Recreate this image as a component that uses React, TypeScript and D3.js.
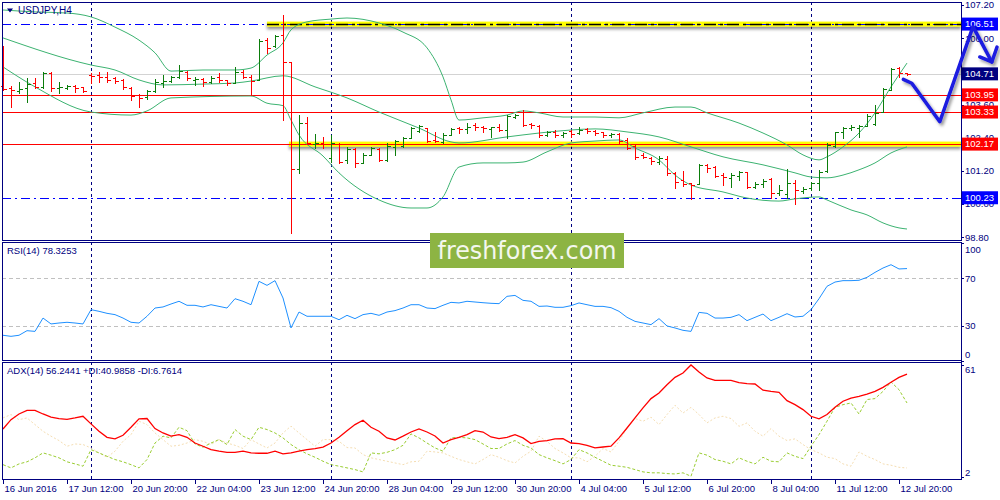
import * as d3 from 'd3'

// ── price bars (USDJPY H4, 16 Jun 04:00 → 13 Jul 00:00) ─────────────────────
const opens = [
  104.27, 104.20, 104.09, 104.20, 104.38, 104.24, 104.74, 104.20, 104.20, 104.27,
  104.24, 104.67, 104.67, 104.60, 104.56, 104.49, 104.20, 103.95, 103.87, 104.09,
  104.38, 104.45, 104.60, 104.78, 104.49, 104.53, 104.42, 104.60, 104.49, 104.38,
  104.78, 104.60, 104.49, 105.93, 105.72, 106.12, 105.14, 101.27, 102.93, 102.17,
  102.21, 101.67, 102.17, 101.60, 101.99, 101.49, 101.78, 101.99, 101.60, 102.07,
  102.10, 102.39, 102.65, 102.75, 102.32, 102.25, 102.50, 102.75, 102.72, 102.86,
  102.79, 102.72, 102.79, 102.68, 103.15, 103.33, 102.90, 102.83, 102.50, 102.61,
  102.50, 102.65, 102.57, 102.72, 102.65, 102.61, 102.50, 102.54, 102.32, 102.10,
  101.78, 101.67, 101.52, 101.63, 101.13, 100.87, 100.77, 100.73, 101.42, 101.34,
  101.05, 100.95, 101.02, 101.16, 100.62, 100.73, 100.91, 100.40, 100.37, 100.77,
  100.48, 100.58, 100.77, 101.20, 102.10, 102.61, 102.75, 102.75, 102.83, 102.90,
  103.33, 104.13, 104.92, 104.74,
]
const highs = [
  105.72, 104.27, 104.42, 104.56, 104.56, 104.78, 104.78, 104.42, 104.31, 104.31,
  104.24, 104.74, 104.78, 104.78, 104.60, 104.53, 104.24, 103.98, 104.13, 104.53,
  104.67, 104.63, 105.03, 104.81, 104.60, 104.56, 104.63, 104.74, 104.49, 104.96,
  104.85, 104.67, 105.97, 106.01, 106.12, 106.84, 105.14, 103.22, 103.15, 102.54,
  102.43, 102.50, 102.21, 102.07, 102.03, 101.85, 102.07, 102.03, 102.21, 102.32,
  102.43, 102.79, 102.86, 102.75, 102.61, 102.57, 102.75, 102.79, 102.93, 102.93,
  102.83, 102.79, 102.90, 103.22, 103.26, 103.40, 102.93, 102.86, 102.65, 102.68,
  102.61, 102.68, 102.79, 102.75, 102.68, 102.61, 102.57, 102.57, 102.39, 102.14,
  101.85, 101.71, 101.74, 101.74, 101.16, 101.20, 100.77, 101.45, 101.45, 101.38,
  101.13, 101.13, 101.20, 101.16, 100.80, 100.91, 100.95, 100.69, 101.27, 100.87,
  100.62, 100.80, 101.24, 102.21, 102.61, 102.79, 102.86, 102.86, 103.26, 103.59,
  104.20, 104.92, 104.96, 104.74,
]
const lows = [
  104.13, 103.51, 104.02, 103.69, 104.20, 104.20, 104.09, 104.02, 104.16, 104.06,
  104.06, 104.38, 104.42, 104.42, 104.38, 104.16, 103.77, 103.51, 103.80, 104.06,
  104.24, 104.42, 104.56, 104.49, 104.31, 104.27, 104.38, 104.42, 104.31, 104.38,
  104.56, 103.95, 104.49, 105.47, 105.68, 103.04, 98.96, 101.13, 102.17, 102.03,
  102.03, 101.52, 101.49, 101.49, 101.34, 101.49, 101.78, 101.56, 101.56, 101.78,
  102.07, 102.39, 102.61, 102.25, 102.25, 102.21, 102.50, 102.57, 102.57, 102.68,
  102.61, 102.43, 102.65, 102.39, 103.12, 102.83, 102.75, 102.43, 102.46, 102.43,
  102.43, 102.43, 102.54, 102.57, 102.50, 102.43, 102.43, 102.21, 101.99, 101.63,
  101.67, 101.45, 101.45, 101.05, 100.58, 100.66, 100.19, 100.73, 101.16, 100.98,
  100.69, 100.62, 100.87, 100.58, 100.58, 100.62, 100.22, 100.33, 100.22, 100.01,
  100.40, 100.51, 100.51, 101.16, 102.07, 102.39, 102.68, 102.43, 102.83, 102.86,
  103.33, 104.13, 104.60, 104.67,
]
const closes = [
  104.16, 104.13, 104.16, 104.34, 104.24, 104.74, 104.20, 104.24, 104.27, 104.20,
  104.09, 104.63, 104.60, 104.49, 104.45, 104.24, 103.91, 103.84, 104.09, 104.42,
  104.45, 104.60, 104.81, 104.56, 104.53, 104.42, 104.56, 104.49, 104.38, 104.78,
  104.60, 104.45, 105.90, 105.65, 106.08, 105.14, 101.27, 102.93, 102.21, 102.21,
  102.17, 102.21, 101.52, 101.99, 101.49, 101.78, 102.03, 101.60, 102.10, 102.28,
  102.39, 102.75, 102.83, 102.28, 102.30, 102.50, 102.72, 102.70, 102.79, 102.79,
  102.75, 102.78, 102.68, 103.19, 103.22, 102.86, 102.86, 102.50, 102.61, 102.50,
  102.57, 102.54, 102.68, 102.65, 102.57, 102.50, 102.54, 102.28, 102.03, 101.71,
  101.71, 101.56, 101.67, 101.13, 100.80, 100.73, 100.69, 101.42, 101.31, 101.02,
  100.98, 101.05, 101.16, 100.62, 100.73, 100.84, 100.40, 100.51, 100.77, 100.51,
  100.55, 100.77, 101.16, 102.14, 102.61, 102.75, 102.79, 102.83, 103.19, 103.30,
  104.16, 104.89, 104.74, 104.71,
]

// ── Bollinger bands, read as [bar, price] ─────────────────────────────────────
const bbUpper: [number, number][] = [
  [0, 107.02], [4, 106.95], [8, 106.91], [11, 106.77], [14, 106.40], [17, 105.93], [19, 105.47],
  [21, 104.81], [25, 104.85], [29, 104.85], [31, 104.92], [33, 105.39], [35, 105.83], [36, 106.30],
  [38, 106.59], [41, 106.69], [43, 106.73], [47, 106.55], [50, 106.22], [53, 105.65], [55, 104.60],
  [56, 103.77], [57, 103.04], [60, 103.12], [63, 103.22], [65, 103.37], [67, 103.30], [70, 103.15],
  [74, 103.15], [77, 103.12], [80, 103.30], [84, 103.51], [86, 103.51], [88, 103.30], [92, 102.93],
  [95, 102.57], [98, 102.14], [100, 101.78], [102, 101.60], [103, 101.71], [105, 102.07],
  [107, 102.57], [109, 103.30], [111, 104.24], [113, 105.10],
]
const bbMiddle: [number, number][] = [
  [0, 106.01], [11, 105.03], [14, 104.85], [17, 104.49], [20, 104.31], [25, 104.34], [29, 104.38],
  [31, 104.45], [35, 104.64], [39, 104.24], [43, 103.84], [47, 103.33], [52, 102.75], [56, 102.25],
  [57, 102.21], [63, 102.43], [67, 102.57], [71, 102.68], [74, 102.72], [78, 102.61], [82, 102.43],
  [86, 102.07], [90, 101.71], [95, 101.42], [99, 101.13], [101, 100.98], [103, 100.95],
  [105, 101.05], [107, 101.24], [109, 101.49], [111, 101.85], [113, 102.07],
]
const bbLower: [number, number][] = [
  [0, 104.96], [4, 104.24], [11, 103.33], [16, 103.22], [18, 103.37], [21, 103.84], [31, 103.91],
  [33, 103.65], [35, 103.56], [36, 103.04], [37, 102.50], [40, 101.74], [42, 101.13], [47, 100.15],
  [51, 99.86], [53, 99.86], [55, 100.26], [57, 101.34], [60, 101.49], [63, 101.49], [65, 101.52],
  [68, 101.89], [71, 102.21], [74, 102.28], [77, 102.32], [79, 102.03], [82, 101.60], [84, 101.05],
  [86, 100.69], [90, 100.44], [93, 100.22], [97, 100.11], [99, 100.19], [102, 100.26], [103, 100.15],
  [106, 99.79], [108, 99.61], [110, 99.32], [112, 99.14], [113, 99.10],
]

// ── RSI(14) ──────────────────────────────────────────────────────────────────
const rsi = [
  21.8, 20.9, 21.8, 25.7, 25.1, 36.4, 31.4, 32.2, 32.8, 32.2,
  31.4, 43.5, 42.1, 40.4, 39.3, 36.4, 32.8, 32.2, 37.9, 44.9,
  45.8, 48.3, 50.6, 47.2, 47.2, 45.8, 47.7, 46.3, 44.9, 52.8,
  50.6, 47.7, 67.5, 64.1, 68.1, 53.4, 28.0, 41.5, 37.9, 37.9,
  37.9, 37.9, 35.0, 38.7, 35.9, 39.3, 40.4, 38.7, 41.5, 42.7,
  44.9, 47.7, 47.7, 44.9, 44.4, 47.2, 49.7, 49.2, 50.6, 50.0,
  49.4, 48.9, 48.6, 54.8, 55.6, 51.4, 50.6, 46.3, 46.6, 45.5,
  45.5, 46.9, 49.2, 47.7, 46.3, 46.3, 45.2, 42.1, 37.0, 33.6,
  32.2, 30.8, 35.9, 29.7, 28.0, 26.0, 25.1, 41.2, 40.4, 36.4,
  36.4, 37.0, 39.3, 34.2, 37.0, 39.8, 34.2, 37.0, 40.1, 37.3,
  37.9, 43.5, 52.8, 63.3, 66.9, 68.1, 68.1, 68.4, 70.9, 75.1,
  78.8, 81.6, 78.0, 78.3253,
]

// ── ADX(14), +DI, -DI ────────────────────────────────────────────────────────
const adx = [
  27.3, 32.2, 35.2, 37.1, 37.1, 35.2, 33.5, 32.8, 32.4, 33.1,
  34.0, 30.0, 26.1, 22.9, 22.1, 24.0, 28.2, 32.6, 32.8, 27.5,
  25.2, 23.5, 24.3, 22.9, 19.9, 18.2, 16.4, 15.6, 15.0, 15.0,
  15.6, 14.7, 14.5, 14.5, 15.6, 14.2, 14.7, 15.6, 16.4, 17.0,
  17.7, 19.9, 22.9, 26.4, 29.6, 31.9, 28.2, 26.1, 22.6, 21.5,
  23.5, 25.7, 27.3, 25.7, 23.6, 19.9, 21.7, 22.9, 24.3, 26.4,
  25.7, 23.1, 22.2, 22.9, 24.3, 22.6, 19.6, 20.8, 21.2, 22.1,
  22.2, 19.9, 19.6, 18.7, 17.3, 17.8, 18.2, 22.6, 27.8, 33.1,
  38.4, 43.3, 46.3, 50.6, 54.5, 56.8, 61.0, 57.3, 54.2, 52.9,
  52.9, 52.9, 51.7, 51.2, 51.0, 47.7, 47.1, 46.6, 42.2, 40.1,
  37.5, 34.0, 32.6, 34.9, 38.7, 41.9, 43.6, 44.5, 45.7, 47.1,
  49.2, 51.9, 54.5, 56.2441,
]
const plusDI = [
  8.5, 6.8, 8.9, 10.0, 12.1, 14.7, 13.5, 12.1, 10.0, 8.9,
  7.7, 16.4, 14.7, 12.9, 11.2, 10.0, 8.5, 6.8, 11.2, 19.9,
  23.5, 22.6, 28.2, 26.4, 19.4, 17.7, 19.9, 21.7, 19.1, 27.0,
  23.5, 21.7, 28.2, 27.0, 25.2, 22.6, 19.1, 16.4, 14.2, 12.4,
  10.3, 8.5, 7.7, 6.8, 5.9, 4.7, 14.7, 14.2, 15.0, 16.4,
  18.7, 24.7, 22.6, 19.9, 17.3, 15.6, 22.6, 22.9, 22.6, 21.7,
  19.4, 17.0, 17.0, 19.4, 21.2, 18.7, 17.3, 13.8, 12.1, 10.6,
  8.9, 11.2, 16.4, 14.7, 12.4, 10.3, 8.2, 7.7, 7.1, 5.9,
  4.7, 4.2, 4.2, 3.8, 3.6, 4.2, 2.4, 14.7, 13.5, 11.2,
  10.3, 8.9, 12.1, 10.3, 8.9, 12.4, 10.3, 10.0, 14.7, 12.9,
  11.7, 18.2, 24.3, 31.4, 38.7, 40.1, 41.0, 35.2, 42.8, 43.3,
  47.1, 52.1, 48.0, 40.9858,
]
const minusDI = [
  33.1, 34.9, 32.2, 33.1, 29.6, 26.1, 23.5, 21.2, 18.2, 19.4,
  19.1, 17.3, 14.7, 12.4, 15.6, 20.8, 24.3, 31.4, 29.6, 25.2,
  21.7, 18.2, 18.7, 19.9, 21.7, 20.8, 19.1, 21.7, 19.9, 18.7,
  17.0, 21.7, 19.4, 17.3, 19.9, 25.2, 28.8, 25.2, 21.7, 18.2,
  21.7, 21.7, 20.8, 17.5, 17.3, 13.8, 12.1, 11.2, 10.3, 9.4,
  8.5, 10.0, 10.3, 15.6, 15.2, 14.7, 12.9, 11.2, 10.0, 8.9,
  11.2, 13.8, 12.4, 10.6, 9.4, 12.9, 15.6, 23.5, 20.8, 17.0,
  14.7, 12.1, 12.1, 10.0, 12.9, 17.0, 15.2, 20.8, 27.8, 32.8,
  31.4, 33.5, 29.6, 34.9, 39.8, 35.7, 38.7, 34.9, 30.5, 33.1,
  34.0, 32.8, 28.7, 30.5, 26.1, 23.5, 27.5, 23.5, 21.2, 22.1,
  19.1, 16.4, 14.7, 12.4, 11.7, 8.9, 7.7, 15.2, 12.9, 11.2,
  8.9, 8.2, 7.1, 6.7614,
]

// ── axes, levels, annotations ────────────────────────────────────────────────
const priceTicks = [107.2, 106.0, 104.8, 103.6, 102.4, 101.2, 100.0, 98.8]
const rsiTicks = [100, 70, 30, 0]
const rsiLevels = [70, 30]
const adxTicks = [61, 2]
const timeLabels = [
  '16 Jun 2016', '17 Jun 12:00', '20 Jun 20:00', '22 Jun 04:00', '23 Jun 12:00',
  '24 Jun 20:00', '28 Jun 04:00', '29 Jun 12:00', '30 Jun 20:00', '4 Jul 04:00',
  '5 Jul 12:00', '6 Jul 20:00', '8 Jul 04:00', '11 Jul 12:00', '12 Jul 20:00',
]
const labelEvery = 8
const weekStarts = [11, 41, 71, 101]
const lastPrice = 104.71
const blueLevels = [106.51, 100.23]
const redLevels = [103.95, 103.33, 102.17]
const zoneLevels = [106.51, 102.17]
const zoneStarts = [33, 35.75]
const arrowPath: [number, number][] = [[112.54, 104.51], [113.6, 104.37], [117.1, 102.98], [121.25, 106.42], [123.6, 105.14]]
const arrowHead: [number, number][] = [[122.1, 105.32], [123.6, 105.14], [124.25, 105.68]]

// ── look ─────────────────────────────────────────────────────────────────────
const NAVY = '#000080'
const UP = '#0b7d0b'
const DOWN = '#ff0000'
const BAND = '#3cb371'
const FONT = '"Liberation Sans", Arial, sans-serif'
const L = 2, R = 961
const MAIN = [2, 240], RSI = [242, 360], ADX = [362, 479]

const x = d3.scaleLinear().domain([0, 113]).range([3, 907])
const yP = d3.scaleLinear().domain([98.8, 107.2]).range([237.3, 5])
const yR = d3.scaleLinear().domain([0, 100]).range([361, 243])
const yA = d3.scaleLinear().domain([2, 61]).range([477, 365])
const px = (v: number) => Math.round(v) + 0.5

const bandLine = d3.line<[number, number]>().x(d => x(d[0])).y(d => yP(d[1])).curve(d3.curveMonotoneX)
const arrowLine = d3.line<[number, number]>().x(d => x(d[0])).y(d => yP(d[1]))
const seriesLine = (ys: d3.ScaleLinear<number, number>) =>
  d3.line<number>().x((_, i) => x(i)).y(v => ys(v))

function AxisBox({ price, fill }: { price: number; fill: string }) {
  const y = yP(price)
  return (
    <g>
      <rect x={962} y={y - 6.5} width={36} height={13} fill={fill} />
      <text x={965} y={y} dy="0.35em" fill="#fff" fontSize={9.5}>{price.toFixed(2)}</text>
    </g>
  )
}

export default function App() {
  return (
    <div style={{ position: 'fixed', left: 0, top: 0, width: 1000, height: 500, background: '#fff' }}>
      <svg width={1000} height={500} style={{ display: 'block', fontFamily: FONT }}>
        <defs>
          <filter id="shadow" x="-5%" y="-60%" width="110%" height="320%">
            <feDropShadow dx="0" dy="2.5" stdDeviation="1.6" floodColor="#000" floodOpacity="0.45" />
          </filter>
          <filter id="ashadow" x="-20%" y="-20%" width="140%" height="140%">
            <feDropShadow dx="2" dy="2.5" stdDeviation="1.8" floodColor="#000" floodOpacity="0.4" />
          </filter>
        </defs>
        <rect width={1000} height={500} fill="#fff" />

        {/* week separators */}
        {weekStarts.map(i => (
          <line key={i} x1={px(x(i))} x2={px(x(i))} y1={MAIN[0]} y2={ADX[1]}
            stroke={NAVY} strokeDasharray="3,3" />
        ))}

        {/* ── main panel ─────────────────────────────────────────────── */}
        {zoneLevels.map((p, k) => (
          <rect key={p} x={x(zoneStarts[k])} y={yP(p) - 2.5} width={R - x(zoneStarts[k])} height={5}
            fill="#ffff00" filter="url(#shadow)" />
        ))}
        <line x1={L} x2={R} y1={px(yP(lastPrice))} y2={px(yP(lastPrice))} stroke="#d3d3d3" />
        {blueLevels.map(p => (
          <line key={p} x1={L} x2={R} y1={px(yP(p))} y2={px(yP(p))} stroke="#0000ff" strokeDasharray="9,4,2,4" />
        ))}
        <line x1={x(zoneStarts[0])} x2={R} y1={px(yP(zoneLevels[0]))} y2={px(yP(zoneLevels[0]))}
          stroke="#000" strokeWidth={1.3} strokeDasharray="12,4,3,4" />
        {redLevels.map(p => (
          <line key={p} x1={L} x2={R} y1={px(yP(p))} y2={px(yP(p))} stroke={DOWN} />
        ))}

        <g fill="none" stroke={BAND} strokeWidth={1}>
          <path d={bandLine(bbUpper) ?? ''} />
          <path d={bandLine(bbMiddle) ?? ''} />
          <path d={bandLine(bbLower) ?? ''} />
        </g>

        <g shapeRendering="crispEdges">
          {closes.map((c, i) => {
            const o = opens[i]
            const cx = px(x(i))
            return (
              <g key={i} stroke={c >= o ? UP : DOWN}>
                <line x1={cx} x2={cx} y1={Math.round(yP(highs[i]))} y2={Math.round(yP(lows[i])) + 1} />
                <line x1={cx - 3} x2={cx} y1={px(yP(o))} y2={px(yP(o))} />
                <line x1={cx} x2={cx + 3} y1={px(yP(c))} y2={px(yP(c))} />
              </g>
            )
          })}
        </g>

        {/* header */}
        <path d="M7,8.5 L13,8.5 L10,12.5 Z" fill={NAVY} />
        <text x={18} y={14} fontSize={10} fill={NAVY}>USDJPY,H4</text>

        {/* ── RSI panel ─────────────────────────────────────────────── */}
        {rsiLevels.map(v => (
          <line key={v} x1={L} x2={R} y1={px(yR(v))} y2={px(yR(v))} stroke="#c0c0c0" strokeDasharray="4,3" />
        ))}
        <path d={seriesLine(yR)(rsi) ?? ''} fill="none" stroke="#1e90ff" strokeWidth={1} />
        <text x={7} y={254} fontSize={9.5} fill={NAVY}>RSI(14) {rsi[rsi.length - 1].toFixed(4)}</text>

        {/* ── ADX panel ─────────────────────────────────────────────── */}
        <path d={seriesLine(yA)(minusDI) ?? ''} fill="none" stroke="#f5deb3" strokeWidth={1} strokeDasharray="2,2" />
        <path d={seriesLine(yA)(plusDI) ?? ''} fill="none" stroke="#9acd32" strokeWidth={1} strokeDasharray="3,2" />
        <path d={seriesLine(yA)(adx) ?? ''} fill="none" stroke="#ff0000" strokeWidth={1.3} />
        <text x={7} y={374} fontSize={9.5} fill={NAVY}>
          ADX(14) {adx[adx.length - 1].toFixed(4)}  +DI:{plusDI[plusDI.length - 1].toFixed(4)} -DI:{minusDI[minusDI.length - 1].toFixed(4)}
        </text>

        {/* ── frames ────────────────────────────────────────────────── */}
        <g fill="none" stroke={NAVY} shapeRendering="crispEdges">
          {[MAIN, RSI, ADX].map(([t, b]) => (
            <rect key={t} x={L + 0.5} y={t + 0.5} width={R - L} height={b - t} />
          ))}
        </g>

        {/* price axis */}
        <g fontSize={9.5} fill={NAVY}>
          {priceTicks.map(p => (
            <g key={p}>
              <line x1={R} x2={R + 3} y1={px(yP(p))} y2={px(yP(p))} stroke={NAVY} />
              <text x={965} y={yP(p)} dy="0.35em">{p.toFixed(2)}</text>
            </g>
          ))}
          {rsiTicks.map(v => (
            <g key={v}>
              <line x1={R} x2={R + 3} y1={px(yR(v))} y2={px(yR(v))} stroke={NAVY} />
              <text x={965} y={Math.min(Math.max(yR(v), 250), 355)} dy="0.35em">{v}</text>
            </g>
          ))}
          {adxTicks.map(v => (
            <g key={v}>
              <line x1={R} x2={R + 3} y1={px(yA(v))} y2={px(yA(v))} stroke={NAVY} />
              <text x={965} y={Math.min(Math.max(yA(v), 370), 473)} dy="0.35em">{v}</text>
            </g>
          ))}
        </g>
        <AxisBox price={blueLevels[0]} fill="#0000ff" />
        <AxisBox price={lastPrice} fill={NAVY} />
        {redLevels.map(p => <AxisBox key={p} price={p} fill={DOWN} />)}
        <AxisBox price={blueLevels[1]} fill="#0000ff" />

        {/* time axis */}
        <g fontSize={9.5} fill={NAVY}>
          {timeLabels.map((t, k) => {
            const tx = px(x(k * labelEvery))
            return (
              <g key={t}>
                <line x1={tx} x2={tx} y1={ADX[1]} y2={ADX[1] + 5} stroke={NAVY} />
                <text x={tx + 1} y={492}>{t}</text>
              </g>
            )
          })}
        </g>

        {/* forecast arrow */}
        <g fill="none" stroke="#1a1ae0" strokeWidth={3.5} strokeLinecap="round" strokeLinejoin="round" filter="url(#ashadow)">
          <path d={arrowLine(arrowPath) ?? ''} />
          <path d={arrowLine(arrowHead) ?? ''} />
        </g>

        {/* watermark */}
        <rect x={430} y={233} width={194} height={35} fill="#8db443" />
        <text x={527} y={259} textAnchor="middle" fontSize={25} fill="#f4f7ee"
          fontFamily='"DejaVu Sans", sans-serif' textLength={179} lengthAdjust="spacingAndGlyphs">
          freshforex.com
        </text>
      </svg>
    </div>
  )
}
